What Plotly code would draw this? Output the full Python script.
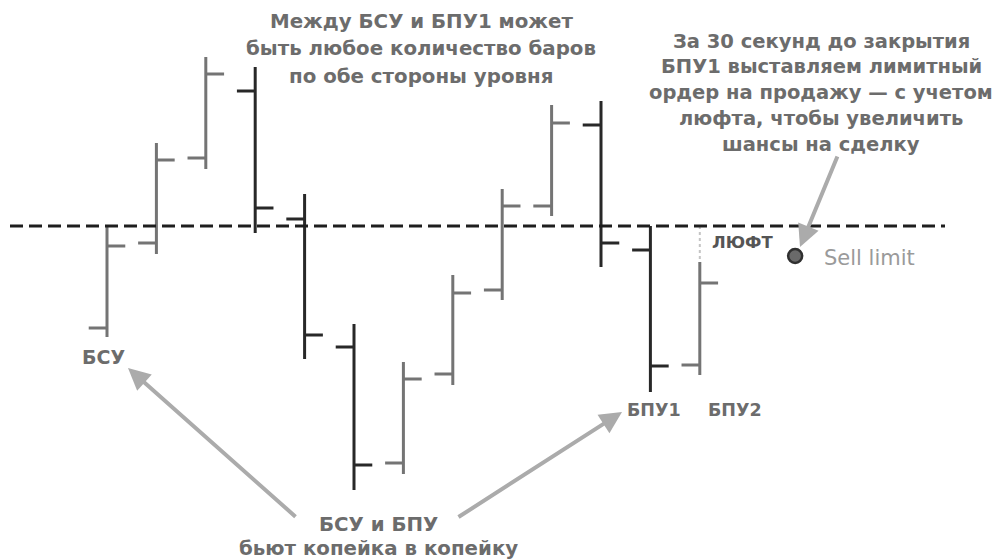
import plotly.graph_objects as go

# ---- data (price units; level = 100.00) ----
bars = list(range(13))
opens  = [98.98, 99.83, 100.68, 101.35, 100.07, 98.79, 97.63, 98.52, 99.36, 100.20, 101.01, 99.76, 98.61]
highs  = [100.00, 100.83, 101.69, 101.59, 100.32, 99.02, 98.64, 99.51, 100.37, 101.21, 101.25, 100.00, 99.64]
lows   = [98.89, 99.72, 100.57, 99.93, 98.67, 97.36, 97.52, 98.41, 99.26, 100.10, 99.59, 98.34, 98.51]
closes = [99.80, 100.66, 101.52, 100.18, 98.91, 97.61, 98.47, 99.33, 100.20, 101.03, 99.83, 98.60, 99.43]

level = 100.00
sell_limit_x = 13.93
sell_limit_price = 99.70

bpu2_idx = 12

top_lines = ["Между БСУ и БПУ1 может", "быть любое количество баров", "по обе стороны уровня"]
right_lines = ["За 30 секунд до закрытия", "БПУ1 выставляем лимитный",
               "ордер на продажу — с учетом", "люфта, чтобы увеличить", "шансы на сделку"]
bottom_lines = ["БСУ и БПУ", "бьют копейка в копейку"]

TXT = "#6c6c6c"
FONT = "DejaVu Sans"

# layout geometry (page has an 8px body offset)
OFF = 8
W, H = 1003 - OFF, 560 - OFF
X0, DX = 107, 49.4          # pixel of bar 0, pixels per bar
def X(px):
    return (px - X0) / DX
def Y(py):
    return 100 + (226 - py) / 100

fig = go.Figure()

fig.add_trace(go.Ohlc(
    x=bars, open=opens, high=highs, low=lows, close=closes,
    increasing=dict(line=dict(color="#747474", width=3)),
    decreasing=dict(line=dict(color="#282828", width=3)),
    tickwidth=0.37, hoverinfo="skip", showlegend=False,
))

# ЛЮФТ gap line (from level to BPU2 high)
fig.add_trace(go.Scatter(
    x=[bars[bpu2_idx], bars[bpu2_idx]], y=[level, highs[bpu2_idx]],
    mode="lines", line=dict(color="#c4c4c4", width=2, dash="dot"),
    hoverinfo="skip", showlegend=False,
))

# Sell limit point
fig.add_trace(go.Scatter(
    x=[sell_limit_x], y=[sell_limit_price], mode="markers",
    marker=dict(size=14, color="#6a6a6a", line=dict(color="#303030", width=2.5)),
    hoverinfo="skip", showlegend=False,
))

# level line
fig.add_shape(type="line", xref="paper", yref="y",
              x0=(10 - OFF) / W, x1=(945 - OFF) / W, y0=level, y1=level,
              line=dict(color="#1e1e1e", width=3, dash="13px,6px"))

def txt(px, py, text, size=19, color=TXT, weight=700, xanchor="center"):
    fig.add_annotation(x=X(px), y=Y(py), xref="x", yref="y", text=text, showarrow=False,
                       font=dict(family=FONT, size=size, color=color, weight=weight),
                       xanchor=xanchor, yanchor="middle", align="center")

def arrow(tx, ty, hx, hy):
    fig.add_annotation(x=X(hx), y=Y(hy), ax=X(tx), ay=Y(ty),
                       xref="x", yref="y", axref="x", ayref="y", text="",
                       showarrow=True, arrowhead=2, arrowsize=1.1, arrowwidth=4,
                       arrowcolor="#ababab", standoff=0)

for i, line in enumerate(top_lines):
    txt(421, 21 + 27.5 * i, line, size=19.8)
for i, line in enumerate(right_lines):
    txt(821, 41 + 25.8 * i, line, size=19.5)
txt(378, 524, bottom_lines[0], size=19.8)
txt(378, 548, bottom_lines[1], size=19.8)
txt(103, 357, "БСУ", size=19)
txt(654, 410, "БПУ1", size=17.5)
txt(735, 410, "БПУ2", size=17.5)
txt(742, 242, "ЛЮФТ", size=16.5, color="#555555")
txt(822, 258, "Sell limit", size=21, color="#9a9a9a", weight=400, xanchor="left")

arrow(297, 518, 128, 368)
arrow(457, 518, 622, 412)
arrow(838, 155, 800, 247)

fig.update_layout(
    width=W, height=H, margin=dict(l=0, r=0, t=0, b=0),
    paper_bgcolor="white", plot_bgcolor="white", showlegend=False,
    xaxis=dict(range=[X(OFF), X(1003)], visible=False, rangeslider=dict(visible=False)),
    yaxis=dict(range=[Y(560), Y(OFF)], visible=False),
)

fig.write_html("out.html")
